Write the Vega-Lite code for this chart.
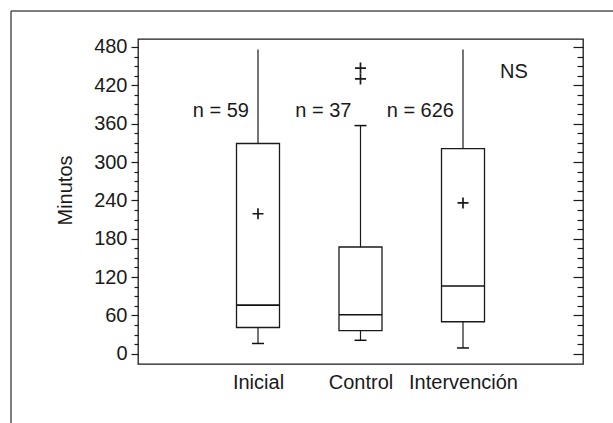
{
  "$schema": "https://vega.github.io/schema/vega-lite/v6.json",
  "width": 445,
  "height": 325,
  "autosize": {"type": "none"},
  "padding": {"left": 138, "top": 39, "right": 30, "bottom": 59},
  "background": "white",
  "config": {
    "view": {"stroke": "#1a1a1a", "strokeWidth": 1.3},
    "font": "Liberation Sans",
    "axis": {
      "labelFont": "Liberation Sans", "titleFont": "Liberation Sans",
      "labelFontSize": 20, "titleFontSize": 20, "titleFontWeight": "normal",
      "labelColor": "#1a1a1a", "titleColor": "#1a1a1a", "tickColor": "#1a1a1a",
      "tickWidth": 1.2, "grid": false, "domain": false
    }
  },
  "datasets": {
    "cajas": [
      {"grupo": "Inicial", "bajo": 16, "q1": 41, "mediana": 76, "q3": 329, "alto": 476, "media": 219, "etiqueta": "n = 59"},
      {"grupo": "Control", "bajo": 21, "q1": 36, "mediana": 61, "q3": 167, "alto": 357, "media": null, "etiqueta": "n = 37"},
      {"grupo": "Intervención", "bajo": 9, "q1": 50, "mediana": 106, "q3": 321, "alto": 476, "media": 236, "etiqueta": "n = 626"}
    ],
    "topes": [
      {"grupo": "Inicial", "valor": 16},
      {"grupo": "Control", "valor": 21},
      {"grupo": "Control", "valor": 357},
      {"grupo": "Intervención", "valor": 9}
    ],
    "atipicos": [
      {"grupo": "Control", "valor": 447},
      {"grupo": "Control", "valor": 430}
    ]
  },
  "resolve": {"scale": {"x": "independent"}, "axis": {"x": "independent", "y": "independent"}},
  "layer": [
    {
      "data": {"values": [{"marco": "exterior"}]},
      "layer": [
        {
          "mark": {"type": "rule", "stroke": "#555555", "strokeWidth": 1.5},
          "encoding": {
            "x": {"datum": -1.4, "type": "quantitative", "scale": {"domain": [-0.161, 4.18], "nice": false, "zero": false}, "axis": null},
            "x2": {"datum": 6},
            "y": {"datum": 536.3, "type": "quantitative", "scale": {"domain": [-16.1, 492.5], "nice": false, "zero": false}, "axis": null}
          }
        },
        {
          "mark": {"type": "rule", "stroke": "#555555", "strokeWidth": 1.5},
          "encoding": {
            "x": {"datum": -1.4, "type": "quantitative", "scale": {"domain": [-0.161, 4.18], "nice": false, "zero": false}, "axis": null},
            "y": {"datum": 536.3, "type": "quantitative", "scale": {"domain": [-16.1, 492.5], "nice": false, "zero": false}, "axis": null},
            "y2": {"datum": -200}
          }
        }
      ]
    },
    {
      "resolve": {"axis": {"x": "independent", "y": "independent"}},
      "layer": [
        {
          "data": {"name": "cajas"},
          "mark": {"type": "rule", "stroke": "#1a1a1a", "strokeWidth": 1.2},
          "encoding": {
            "x": {"field": "grupo", "type": "nominal",
              "scale": {"type": "point", "domain": ["Inicial", "Control", "Intervención"], "range": [120, 325], "padding": 0},
              "axis": {"orient": "bottom", "title": null, "ticks": false, "labelPadding": 8, "labelAngle": 0}},
            "y": {"field": "q3", "type": "quantitative", "scale": {"domain": [-16.1, 492.5], "nice": false, "zero": false},
              "axis": {"orient": "left", "values": [15,30,45,75,90,105,135,150,165,195,210,225,255,270,285,315,330,345,375,390,405,435,450,465], "tickSize": 4, "labels": false, "title": null}},
            "y2": {"field": "alto"}
          }
        },
        {
          "data": {"name": "cajas"},
          "mark": {"type": "rule", "stroke": "#1a1a1a", "strokeWidth": 1.2},
          "encoding": {
            "x": {"field": "grupo", "type": "nominal", "axis": null},
            "y": {"field": "bajo", "type": "quantitative", "scale": {"domain": [-16.1, 492.5], "nice": false, "zero": false},
              "axis": {"orient": "right", "values": [0,60,120,180,240,300,360,420,480], "tickSize": -10, "labels": false, "title": null}},
            "y2": {"field": "q1"}
          }
        },
        {
          "data": {"name": "cajas"},
          "mark": {"type": "bar", "fill": "white", "stroke": "#1a1a1a", "strokeWidth": 1.3, "width": 43},
          "encoding": {
            "x": {"field": "grupo", "type": "nominal", "axis": null},
            "y": {"field": "q1", "type": "quantitative", "scale": {"domain": [-16.1, 492.5], "nice": false, "zero": false},
              "axis": {"orient": "left", "values": [0,60,120,180,240,300,360,420,480], "tickSize": 7, "labelPadding": 4, "title": "Minutos", "titlePadding": 18, "titleY": 151}},
            "y2": {"field": "q3"}
          }
        },
        {
          "data": {"name": "cajas"},
          "mark": {"type": "tick", "color": "#111111", "size": 43, "thickness": 1.6, "opacity": 1},
          "encoding": {
            "x": {"field": "grupo", "type": "nominal", "axis": null},
            "y": {"field": "mediana", "type": "quantitative", "scale": {"domain": [-16.1, 492.5], "nice": false, "zero": false},
              "axis": {"orient": "right", "values": [15,30,45,75,90,105,135,150,165,195,210,225,255,270,285,315,330,345,375,390,405,435,450,465], "tickSize": -6, "labels": false, "title": null}}
          }
        },
        {
          "data": {"name": "topes"},
          "mark": {"type": "tick", "color": "#111111", "size": 12, "thickness": 1.5, "opacity": 1},
          "encoding": {
            "x": {"field": "grupo", "type": "nominal", "axis": null},
            "y": {"field": "valor", "type": "quantitative", "scale": {"domain": [-16.1, 492.5], "nice": false, "zero": false}, "axis": null}
          }
        },
        {
          "data": {"name": "cajas"},
          "transform": [{"filter": "datum.media != null"}],
          "mark": {"type": "point", "shape": "M-1,0H1M0,-1V1", "filled": false, "stroke": "#1a1a1a", "strokeWidth": 1.7, "size": 121, "opacity": 1},
          "encoding": {
            "x": {"field": "grupo", "type": "nominal", "axis": null},
            "y": {"field": "media", "type": "quantitative", "scale": {"domain": [-16.1, 492.5], "nice": false, "zero": false}, "axis": null}
          }
        },
        {
          "data": {"name": "atipicos"},
          "mark": {"type": "point", "shape": "M-1,0H1M0,-1V1", "filled": false, "stroke": "#1a1a1a", "strokeWidth": 1.7, "size": 121, "opacity": 1},
          "encoding": {
            "x": {"field": "grupo", "type": "nominal", "axis": null},
            "y": {"field": "valor", "type": "quantitative", "scale": {"domain": [-16.1, 492.5], "nice": false, "zero": false}, "axis": null}
          }
        },
        {
          "data": {"name": "cajas"},
          "mark": {"type": "text", "align": "right", "baseline": "middle", "dx": -9, "fontSize": 20, "font": "Liberation Sans", "color": "#1a1a1a"},
          "encoding": {
            "x": {"field": "grupo", "type": "nominal", "axis": null},
            "y": {"datum": 380, "type": "quantitative", "scale": {"domain": [-16.1, 492.5], "nice": false, "zero": false}, "axis": null},
            "text": {"field": "etiqueta"}
          }
        },
        {
          "data": {"values": [{"texto": "NS"}]},
          "mark": {"type": "text", "align": "left", "baseline": "middle", "dx": 37, "fontSize": 20, "font": "Liberation Sans", "color": "#1a1a1a"},
          "encoding": {
            "x": {"datum": "Intervención", "type": "nominal", "axis": null},
            "y": {"datum": 441, "type": "quantitative", "scale": {"domain": [-16.1, 492.5], "nice": false, "zero": false}, "axis": null},
            "text": {"field": "texto"}
          }
        }
      ]
    }
  ]
}
